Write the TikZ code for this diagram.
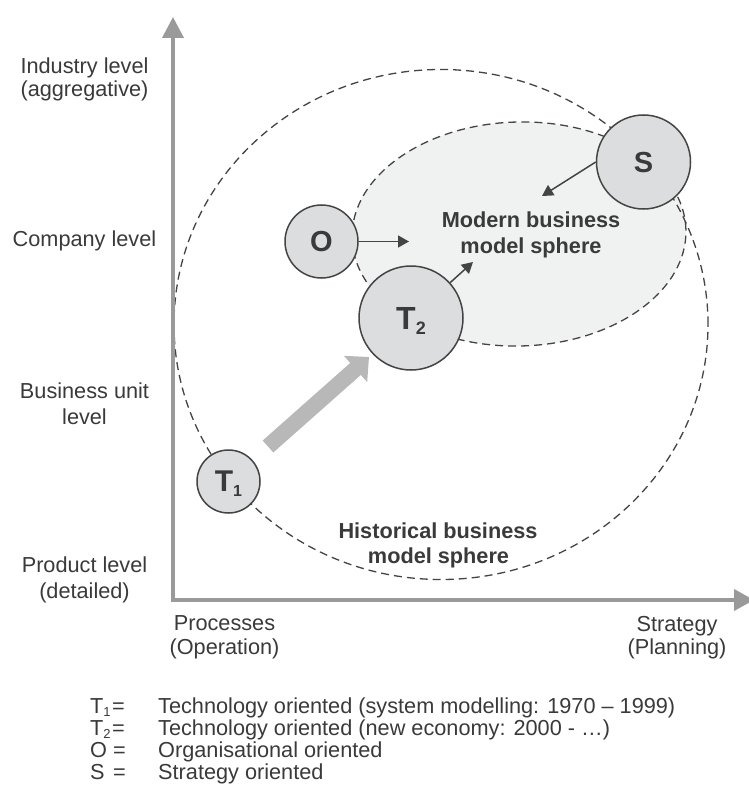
\documentclass[tikz,border=0pt]{standalone}
\usepackage{fontspec}
\setmainfont{Liberation Sans}
\usetikzlibrary{arrows.meta}
\definecolor{txt}{HTML}{3A3A3A}
\definecolor{axisgray}{HTML}{9A9A9A}
\definecolor{circfill}{HTML}{DCDDDE}
\definecolor{innerfill}{HTML}{F0F1F1}
\definecolor{lineclr}{HTML}{444444}
\definecolor{bigarrowclr}{HTML}{B8B8B8}
\begin{document}
\begin{tikzpicture}[x=1pt,y=-1pt,
  lbl/.style={font=\fontsize{21.7}{22}\selectfont, text=txt, inner sep=0pt, anchor=base},
  boldlbl/.style={lbl, font=\fontsize{21.7}{22}\selectfont\bfseries},
  sphere/.style={dash pattern=on 8pt off 5pt, draw=lineclr, line width=1.3pt},
  ball/.style={circle, draw=lineclr, line width=1.5pt, fill=circfill, inner sep=0pt, text depth=0pt, text=txt},
  conn/.style={draw=lineclr, line width=1.5pt, -{Triangle[length=11pt,width=12pt]}},
  axisline/.style={draw=axisgray, line width=3.8pt},
  bigarrow/.style={draw=bigarrowclr, line width=16pt, -{Triangle[length=18pt,width=34pt]}}
]
\useasboundingbox (0,0) rectangle (748,794);
\fill[white] (0,0) rectangle (748,794);

% spheres
\draw[sphere, fill=innerfill, rotate around={1.5:(519,234)}] (519,234) ellipse [x radius=167pt, y radius=112pt];
\draw[sphere] (441,324.5) ellipse [x radius=267pt, y radius=255pt];

% axes
\coordinate (origin) at (173,600);
\coordinate (ytip) at (173,17);
\coordinate (xtip) at (754,600);
\draw[axisline, {Triangle[length=21pt,width=21pt]}-{Triangle[length=20pt,width=21pt]}] (ytip) -- (origin) -- (xtip);

% sphere labels
\node[boldlbl] (mod1) at (531,228) {Modern business};
\node[boldlbl] (mod2) at (531,253) {model sphere};
\node[boldlbl] (his1) at (438,538.5) {Historical business};
\node[boldlbl] (his2) at (438.5,563) {model sphere};

% big arrow T1 -> T2
\coordinate (ba1) at (268,446.5);
\coordinate (ba2) at (369,357);
\draw[bigarrow] (ba1) -- (ba2);

% circles
\node[ball, minimum size=94pt, font=\fontsize{29}{29}\selectfont\bfseries] (S) at (643.5,162) {S};
\node[ball, minimum size=73pt, font=\fontsize{29}{29}\selectfont\bfseries] (O) at (321.5,241.5) {O};
\node[ball, minimum size=104pt, font=\fontsize{32}{32}\selectfont\bfseries] (T2) at (411,318) {T\raisebox{-5pt}{\fontsize{18}{18}\selectfont 2}};
\node[ball, minimum size=63pt, font=\fontsize{30}{30}\selectfont\bfseries] (T1) at (228.5,481.5) {T\raisebox{-5pt}{\fontsize{16}{16}\selectfont 1}};

% small arrows
\coordinate (oa) at (409,241.5);
\coordinate (t2a) at (473,262);
\coordinate (sa) at (542,196);
\draw[conn] (O.east) -- (oa);
\draw[conn] (T2) -- (t2a);
\draw[conn] (S.west) -- (sa);

% axis labels
\node[lbl] (ind1) at (84.5,74) {Industry level};
\node[lbl] (ind2) at (84.5,96.5) {(aggregative)};
\node[lbl] (comp) at (84.5,247) {Company level};
\node[lbl] (bu1) at (84.5,398) {Business unit};
\node[lbl] (bu2) at (84.5,424.5) {level};
\node[lbl] (prod1) at (84.5,572) {Product level};
\node[lbl] (prod2) at (84.5,598) {(detailed)};
\node[lbl] (proc1) at (224.5,630) {Processes};
\node[lbl] (proc2) at (224.5,654) {(Operation)};
\node[lbl] (strat1) at (677,631) {Strategy};
\node[lbl] (strat2) at (677,654) {(Planning)};

% legend
\node[lbl, anchor=base west] (k1) at (90,713) {T\raisebox{-3pt}{\fontsize{13}{13}\selectfont 1}};
\node[lbl, anchor=base west] (e1) at (112,713) {=};
\node[lbl, anchor=base west] (d1) at (158,713) {Technology oriented (system modelling: 1970 – 1999)};
\node[lbl, anchor=base west] (k2) at (90,735) {T\raisebox{-3pt}{\fontsize{13}{13}\selectfont 2}};
\node[lbl, anchor=base west] (e2) at (112,735) {=};
\node[lbl, anchor=base west] (d2) at (158,735) {Technology oriented (new economy: 2000 - …)};
\node[lbl, anchor=base west] (k3) at (90,757) {O};
\node[lbl, anchor=base west] (e3) at (113,757) {=};
\node[lbl, anchor=base west] (d3) at (158,757) {Organisational oriented};
\node[lbl, anchor=base west] (k4) at (90,779) {S};
\node[lbl, anchor=base west] (e4) at (113,779) {=};
\node[lbl, anchor=base west] (d4) at (158,779) {Strategy oriented};
\end{tikzpicture}
\end{document}
